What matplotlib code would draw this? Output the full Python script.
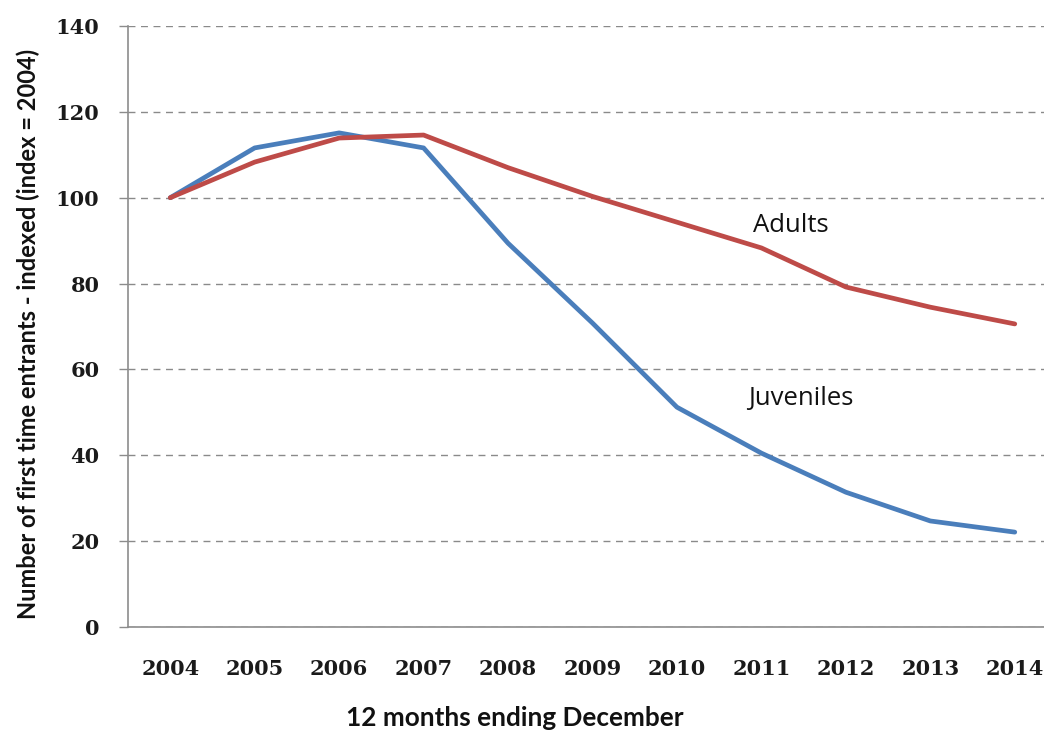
import matplotlib
matplotlib.use("Agg")
import matplotlib.pyplot as plt

years = ["2004", "2005", "2006", "2007", "2008", "2009", "2010", "2011", "2012", "2013", "2014"]
juveniles = [100, 111.6, 115.1, 111.6, 89.4, 70.8, 51.2, 40.5, 31.4, 24.7, 22.1]
adults = [100, 108.3, 113.9, 114.6, 107.0, 100.3, 94.3, 88.3, 79.2, 74.5, 70.6]
y_ticks = [0, 20, 40, 60, 80, 100, 120, 140]

W, H = 1044, 740
fig = plt.figure(figsize=(W / 100, H / 100), dpi=100)
ax = fig.add_axes([128 / W, 113 / H, (1057 - 128) / W, 601 / H])

x = list(range(len(years)))
ax.plot(x, juveniles, color="#4A7EBB", lw=3.4, solid_capstyle="round", solid_joinstyle="round", zorder=3)
ax.plot(x, adults, color="#BE4B48", lw=3.4, solid_capstyle="round", solid_joinstyle="round", zorder=3)

ax.set_xlim(-0.5, len(years) - 0.5)
ax.set_ylim(0, 140)
ax.set_yticks(y_ticks)
ax.set_xticks(x)
ax.set_xticklabels(years)

for s in ["top", "right"]:
    ax.spines[s].set_visible(False)
for s in ["left", "bottom"]:
    ax.spines[s].set_color("#8c8c8c")
    ax.spines[s].set_linewidth(1.2)

ax.yaxis.grid(True, linestyle=(0, (5, 4)), color="#8a8a8a", lw=1.0)
ax.set_axisbelow(True)
ax.tick_params(axis="y", direction="out", length=6.5, color="#8c8c8c", width=1.0, pad=14)
ax.tick_params(axis="x", length=0, pad=23)
for lab in ax.get_yticklabels() + ax.get_xticklabels():
    lab.set_fontfamily("DejaVu Serif")
    lab.set_fontweight("bold")
    lab.set_fontsize(15)
    lab.set_color("#1a1a1a")

ax.text(7.35, 93.6, "Adults", fontsize=18.5, family="Open Sans", ha="center", va="center", color="#111111")
ax.text(7.46, 53.3, "Juveniles", fontsize=18.5, family="Open Sans", ha="center", va="center", color="#111111")

fig.text(28 / W, 1 - 334 / H, "Number of first time entrants - indexed (index = 2004)",
         rotation=90, ha="center", va="center", fontsize=17, family="Lato", fontweight="bold", color="#111111")
fig.text(515 / W, 1 - 718 / H, "12 months ending December",
         ha="center", va="center", fontsize=18.8, family="Lato", fontweight="bold", color="#111111")

fig.savefig("out.png", dpi=100)
